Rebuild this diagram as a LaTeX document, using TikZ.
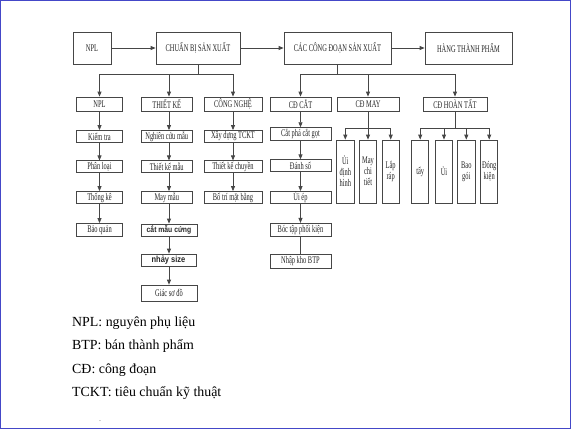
\documentclass[tikz,border=0pt]{standalone}
\usepackage{fontspec}
\setmainfont{Liberation Serif}
\newfontfamily\boxfont[FakeStretch=0.63]{Liberation Serif}
\newfontfamily\boxsans[FakeStretch=0.85]{Liberation Sans}
\usetikzlibrary{arrows.meta}
\definecolor{linegray}{RGB}{70,70,70}
\definecolor{borderblue}{RGB}{68,72,200}
\begin{document}
\begin{tikzpicture}[x=1pt,y=-1pt,
  bx/.style={draw=linegray, line width=0.8pt, fill=white, inner sep=0pt, align=center,
    font=\boxfont\fontsize{10.2}{11}\selectfont, text=black!85},
  arr/.style={draw=linegray, line width=0.8pt, -{Triangle[length=5pt,width=4pt]}},
  ln/.style={draw=linegray, line width=0.8pt},
  legend/.style={anchor=base west, inner sep=0pt, font=\fontsize{13.9}{16}\selectfont, text=black}]
\useasboundingbox (0,0) rectangle (571,429);
\fill[white] (0,0) rectangle (571,429);
\draw[borderblue, line width=1.2pt] (0.6,0.6) rectangle (570.4,428.4);

% top row
\node[bx, minimum width=38, minimum height=32] (npl0) at (92,48) {NPL};
\node[bx, minimum width=84, minimum height=32] (cbsx) at (198,48) {CHUẨN BỊ SẢN XUẤT};
\node[bx, minimum width=107, minimum height=32] (ccd) at (337.5,48) {CÁC CÔNG ĐOẠN SẢN XUẤT};
\node[bx, minimum width=87, minimum height=32] (htp) at (468.5,48) {HÀNG THÀNH PHẨM};
\draw[arr] (npl0) -- (cbsx);
\draw[arr] (cbsx) -- (ccd);
\draw[arr] (ccd) -- (htp);

% column NPL
\node[bx, minimum width=46, minimum height=14] (npl1) at (99.5,104) {NPL};
\node[bx, minimum width=46, minimum height=12] (kt) at (99.5,136.5) {Kiểm tra};
\node[bx, minimum width=46, minimum height=12] (pl) at (99.5,166.8) {Phân loại};
\node[bx, minimum width=46, minimum height=12] (tke) at (99.5,197.5) {Thống kê};
\node[bx, minimum width=46, minimum height=13] (bq) at (99.5,230) {Bảo quản};
\draw[arr] (npl1) -- (kt);
\draw[arr] (kt) -- (pl);
\draw[arr] (pl) -- (tke);
\draw[arr] (tke) -- (bq);

% column THIET KE
\coordinate (tkx) at (169,0);
\node[bx, minimum width=51.5, minimum height=14] (tk) at (166.75,104) {THIẾT KẾ};
\node[bx, minimum width=51.5, minimum height=12] (ncm) at (166.75,136.5) {Nghiên cứu mẫu};
\node[bx, minimum width=51.5, minimum height=12] (tkm) at (166.75,166.8) {Thiết kế mẫu};
\node[bx, minimum width=51.5, minimum height=12] (mm) at (166.75,197.5) {May mẫu};
\node[bx, minimum width=56, minimum height=12, font=\boxsans\bfseries\fontsize{8}{9}\selectfont] (cmc) at (169,230) {cắt mẫu cứng};
\node[bx, minimum width=55, minimum height=12.5, font=\boxsans\bfseries\fontsize{8.8}{9}\selectfont] (ns) at (168.5,260.3) {nhảy size};
\node[bx, minimum width=56, minimum height=16.5] (gsd) at (169,293.3) {Giác sơ đồ};
\draw[arr] (tk.south -| tkx) -- (ncm.north -| tkx);
\draw[arr] (ncm.south -| tkx) -- (tkm.north -| tkx);
\draw[arr] (tkm.south -| tkx) -- (mm.north -| tkx);
\draw[arr] (mm.south -| tkx) -- (cmc.north -| tkx);
\draw[arr] (cmc.south -| tkx) -- (ns.north -| tkx);
\draw[arr] (ns.south -| tkx) -- (gsd.north -| tkx);

% column CONG NGHE
\node[bx, minimum width=58, minimum height=14] (cn) at (233,104) {CÔNG NGHỆ};
\node[bx, minimum width=58, minimum height=12] (xd) at (233,136.5) {Xây dựng TCKT};
\node[bx, minimum width=58, minimum height=12] (tkc) at (233,166.8) {Thiết kế chuyền};
\node[bx, minimum width=58, minimum height=12] (btm) at (233,197.5) {Bố trí mặt bằng};
\draw[arr] (cn) -- (xd);
\draw[arr] (xd) -- (tkc);
\draw[arr] (tkc) -- (btm);

% branch from CHUAN BI
\coordinate (b1) at (198,74);
\draw[ln] (cbsx.south) -- (b1);
\draw[arr] (b1) -| (npl1.north);
\draw[arr] (b1) -| (tk.north -| tkx);
\draw[arr] (b1) -| (cn.north);

% column CD CAT
\node[bx, minimum width=61, minimum height=14] (cdc) at (300.5,104) {CĐ CẮT};
\node[bx, minimum width=61, minimum height=12.3] (cpcg) at (300.5,133.8) {Cắt phá cắt gọt};
\node[bx, minimum width=61, minimum height=11.5] (ds) at (300.5,165.5) {Đánh số};
\node[bx, minimum width=61, minimum height=12] (ue) at (300.5,197.5) {Ủi ép};
\node[bx, minimum width=61, minimum height=13.3] (btpk) at (300.5,230) {Bóc tập phối kiện};
\node[bx, minimum width=61, minimum height=14] (nk) at (300.5,261.3) {Nhập kho BTP};
\draw[arr] (cdc) -- (cpcg);
\draw[arr] (cpcg) -- (ds);
\draw[arr] (ds) -- (ue);
\draw[arr] (ue) -- (btpk);
\draw[ln] (btpk) -- (nk);

% CD MAY
\node[bx, minimum width=62, minimum height=14] (cdm) at (368,104) {CĐ MAY};
\node[bx, minimum width=17.3, minimum height=63] (uidh) at (345.3,171.5) {Ủi\\định\\hình};
\node[bx, minimum width=17.4, minimum height=63] (mct) at (368,171.5) {May\\chi\\tiết};
\node[bx, minimum width=16.7, minimum height=63] (lr) at (390.7,171.5) {Lắp\\ráp};
\coordinate (b3) at (368,128.3);
\draw[ln] (cdm.south) -- (b3);
\draw[arr] (b3) -| (uidh.north);
\draw[arr] (b3) -- (mct.north);
\draw[arr] (b3) -| (lr.north);

% CD HOAN TAT
\node[bx, minimum width=64, minimum height=14] (cdh) at (455,104) {CĐ HOÀN TẤT};
\node[bx, minimum width=17, minimum height=63] (tay) at (420.2,171.5) {tẩy};
\node[bx, minimum width=17.4, minimum height=63] (ui) at (444,171.5) {Ủi};
\node[bx, minimum width=17.3, minimum height=63] (bg) at (466.3,171.5) {Bao\\gói};
\node[bx, minimum width=17, minimum height=63] (dk) at (489.2,171.5) {Đóng\\kiện};
\coordinate (b4) at (455,128.3);
\draw[ln] (cdh.south) -- (b4);
\draw[arr] (b4) -| (tay.north);
\draw[arr] (b4) -| (ui.north);
\draw[arr] (b4) -| (bg.north);
\draw[arr] (b4) -| (dk.north);

% branch from CAC CONG DOAN
\coordinate (b2) at (337.5,74);
\draw[ln] (ccd.south) -- (b2);
\draw[arr] (b2) -| (cdc.north);
\draw[arr] (b2) -| (cdm.north);
\draw[arr] (b2) -| (cdh.north);

% legend
\node[legend] (l1) at (72,326) {NPL: nguyên phụ liệu};
\node[legend] (l2) at (72,349.5) {BTP: bán thành phẩm};
\node[legend] (l3) at (72,373) {CĐ: công đoạn};
\node[legend] (l4) at (72,396.7) {TCKT: tiêu chuẩn kỹ thuật};
\node[inner sep=0pt, font=\fontsize{6}{6}\selectfont] (dot) at (100,421) {.};
\end{tikzpicture}
\end{document}
